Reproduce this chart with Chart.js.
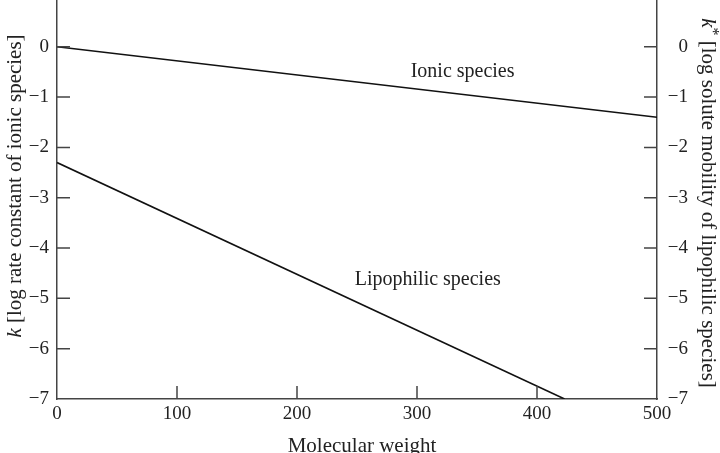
<!DOCTYPE html>
<html>
<head>
<meta charset="utf-8">
<script src="https://cdn.jsdelivr.net/npm/chart.js@4.4.1/dist/chart.umd.min.js"></script>
<style>
  html, body { margin: 0; padding: 0; background: #fff; }
  #chart { display: block; }
</style>
</head>
<body>
<canvas id="chart" width="720" height="453"></canvas>
<script>
// line end points
const ionicX = [0, 500];
const ionicY = [0, -1.4];
const lipoX = [0, 423];
const lipoY = [-2.3, -7];

const xTicks = [0, 100, 200, 300, 400, 500];
const yTicks = [0, -1, -2, -3, -4, -5, -6, -7];

// in-plot labels: [text, x value, y value]
const seriesLabels = [
    ['Ionic species', 338, -0.5],
    ['Lipophilic species', 309, -4.63]
];

const FONT = '"Liberation Serif", "DejaVu Serif", serif';
const INK = '#222';
const AXIS = '#444';

function minus(v) {
    return String(v).replace('-', '\u2212');
}

// draws tick marks pointing into the plot, the annotations and the axis titles
const decorPlugin = {
    id: 'decor',
    afterDraw(chart) {
        const ctx = chart.ctx;
        const xs = chart.scales.x, yl = chart.scales.y, yr = chart.scales.y2;
        const area = chart.chartArea;
        const len = 13;

        ctx.save();
        ctx.strokeStyle = AXIS;
        ctx.lineWidth = 1.5;
        ctx.beginPath();
        xTicks.forEach(v => {
            if (v === xs.min || v === xs.max) return;
            const px = xs.getPixelForValue(v);
            ctx.moveTo(px, area.bottom);
            ctx.lineTo(px, area.bottom - len);
        });
        yTicks.forEach(v => {
            if (v === yl.min) return;
            const py = yl.getPixelForValue(v);
            ctx.moveTo(area.left, py);
            ctx.lineTo(area.left + len, py);
            const pr = yr.getPixelForValue(v);
            ctx.moveTo(area.right, pr);
            ctx.lineTo(area.right - len, pr);
        });
        ctx.stroke();

        ctx.fillStyle = INK;
        ctx.font = `20px ${FONT}`;
        ctx.textAlign = 'center';
        ctx.textBaseline = 'middle';
        seriesLabels.forEach(([txt, vx, vy]) => {
            ctx.fillText(txt, xs.getPixelForValue(vx), yl.getPixelForValue(vy));
        });

        // x title
        ctx.font = `21px ${FONT}`;
        ctx.fillText('Molecular weight', (area.left + area.right) / 2 + 5, 446);

        // left title, reads bottom to top
        drawRotated(ctx, 15, 186, -Math.PI / 2, [
            ['k', 'italic'], [' [log rate constant of ionic species]', '']
        ]);
        // right title, reads top to bottom
        drawRotated(ctx, 708, 203, Math.PI / 2, [
            ['k', 'italic'], ['*', 'sup'], [' [log solute mobility of lipophilic species]', '']
        ]);
        ctx.restore();
    }
};

function drawRotated(ctx, x, y, angle, parts) {
    const fontFor = s => (s === 'italic' ? 'italic ' : '') + (s === 'sup' ? '16px ' : '21px ') + FONT;
    let total = 0;
    parts.forEach(([t, s]) => { ctx.font = fontFor(s); total += ctx.measureText(t).width; });
    ctx.save();
    ctx.translate(x, y);
    ctx.rotate(angle);
    ctx.textAlign = 'left';
    ctx.textBaseline = 'middle';
    let pos = -total / 2;
    parts.forEach(([t, s]) => {
        ctx.font = fontFor(s);
        ctx.fillText(t, pos, s === 'sup' ? -4 : 0);
        pos += ctx.measureText(t).width;
    });
    ctx.restore();
}

const tickFont = { family: FONT, size: 19 };

function noVerticalPad(s, w) {
    s.width = w;
    s.paddingTop = 0;
    s.paddingBottom = 0;
}

new Chart(document.getElementById('chart'), {
    type: 'line',
    data: {
        datasets: [
            {
                label: 'Ionic species',
                data: ionicX.map((x, i) => ({ x, y: ionicY[i] })),
                yAxisID: 'y'
            },
            {
                label: 'Lipophilic species',
                data: lipoX.map((x, i) => ({ x, y: lipoY[i] })),
                yAxisID: 'y'
            }
        ]
    },
    options: {
        responsive: false,
        animation: false,
        devicePixelRatio: 1,
        layout: { padding: { top: 0, left: 0, right: 32, bottom: 0 } },
        elements: {
            point: { radius: 0 },
            line: { borderColor: '#111', borderWidth: 1.6, tension: 0 }
        },
        plugins: {
            legend: { display: false },
            tooltip: { enabled: false }
        },
        scales: {
            x: {
                type: 'linear',
                min: 0,
                max: 500,
                afterBuildTicks: s => { s.ticks = xTicks.map(v => ({ value: v })); },
                afterFit: s => { s.height = 54; s.paddingLeft = 0; s.paddingRight = 0; },
                grid: { display: false, drawTicks: false },
                border: { display: true, color: AXIS, width: 1.5 },
                ticks: { color: INK, font: tickFont, padding: 4, maxRotation: 0 }
            },
            y: {
                type: 'linear',
                position: 'left',
                min: -7,
                max: 0.93,
                afterBuildTicks: s => { s.ticks = yTicks.map(v => ({ value: v })); },
                afterFit: s => noVerticalPad(s, 57),
                grid: { display: false, drawTicks: false },
                border: { display: true, color: AXIS, width: 1.5 },
                ticks: { color: INK, font: tickFont, padding: 8, callback: v => minus(v) }
            },
            y2: {
                type: 'linear',
                position: 'right',
                min: -7,
                max: 0.93,
                afterBuildTicks: s => { s.ticks = yTicks.map(v => ({ value: v })); },
                afterFit: s => noVerticalPad(s, 31),
                grid: { display: false, drawTicks: false },
                border: { display: true, color: AXIS, width: 1.5 },
                ticks: { color: INK, font: tickFont, crossAlign: 'far', callback: v => minus(v) }
            }
        }
    },
    plugins: [decorPlugin]
});
</script>
</body>
</html>
